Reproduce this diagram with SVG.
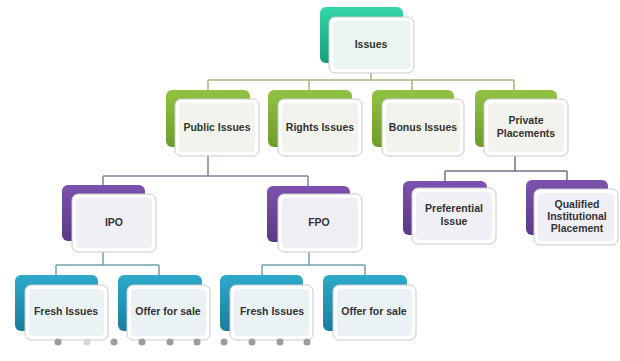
<svg xmlns="http://www.w3.org/2000/svg" width="620" height="361" viewBox="0 0 620 361">
<defs>
<linearGradient id="gTeal" x1="0" y1="0" x2="0" y2="1"><stop offset="0" stop-color="#34d6a8"/><stop offset="1" stop-color="#13a078"/></linearGradient>
<linearGradient id="gGreen" x1="0" y1="0" x2="0" y2="1"><stop offset="0" stop-color="#92c244"/><stop offset="1" stop-color="#6c9c2c"/></linearGradient>
<linearGradient id="gPurple" x1="0" y1="0" x2="0" y2="1"><stop offset="0" stop-color="#7d52ad"/><stop offset="1" stop-color="#5b3889"/></linearGradient>
<linearGradient id="gBlue" x1="0" y1="0" x2="0" y2="1"><stop offset="0" stop-color="#2eaacb"/><stop offset="1" stop-color="#1a7c9c"/></linearGradient>
</defs>
<style>
.front{fill:#ffffff;stroke:#c9c9c9;stroke-width:1}
.inT{fill:#eaf4f1}
.inG{fill:#f1f3ec}
.inP{fill:#f1eff6}
.inB{fill:#ebf2f6}
.lbl{font-family:"Liberation Sans",Arial,sans-serif;font-weight:bold;font-size:10.5px;fill:#333333;text-anchor:middle}
.c1{fill:none;stroke:#b4b07a;stroke-width:1.5}
.c2{fill:none;stroke:#8c7d9c;stroke-width:1.5}
.c3{fill:none;stroke:#6f7488;stroke-width:1.5}
.c4{fill:none;stroke:#72a2aa;stroke-width:1.5}
.dot{fill:#9c9c9c}
</style>
<rect width="620" height="361" fill="#ffffff"/>
<g id="connectors">
<path class="c1" d="M371 73V80M208 80H514M208 80V90M309 80V90M412 80V90M514 80V90"/>
<path class="c2" d="M208 156V176M103 176H308M103 176V185M308 176V187"/>
<path class="c3" d="M515 156V171M445 171H567M445 171V181M567 171V180"/>
<path class="c4" d="M103 252V265M56 265H159M56 265V275M159 265V275"/>
<path class="c4" d="M309 252V265M262 265H365M262 265V275M365 265V275"/>
</g>
<g id="issues">
<rect x="320" y="7" width="83" height="56" rx="6" fill="url(#gTeal)"/>
<rect class="front" x="329" y="17" width="85" height="56" rx="6"/>
<rect class="inT" x="333" y="21" width="77" height="48" rx="4"/>
<text class="lbl" x="371" y="48">Issues</text>
</g>
<g id="public-issues">
<rect x="166" y="90" width="84" height="57" rx="6" fill="url(#gGreen)"/>
<rect class="front" x="175" y="99" width="84" height="57" rx="6"/>
<rect class="inG" x="179" y="103" width="76" height="49" rx="4"/>
<text class="lbl" x="217" y="131">Public Issues</text>
</g>
<g id="rights-issues">
<rect x="268" y="90" width="84" height="57" rx="6" fill="url(#gGreen)"/>
<rect class="front" x="278" y="99" width="84" height="57" rx="6"/>
<rect class="inG" x="282" y="103" width="76" height="49" rx="4"/>
<text class="lbl" x="320" y="131">Rights Issues</text>
</g>
<g id="bonus-issues">
<rect x="372" y="90" width="82" height="57" rx="6" fill="url(#gGreen)"/>
<rect class="front" x="382" y="99" width="82" height="57" rx="6"/>
<rect class="inG" x="386" y="103" width="74" height="49" rx="4"/>
<text class="lbl" x="423" y="131">Bonus Issues</text>
</g>
<g id="private-placements">
<rect x="475" y="90" width="82" height="57" rx="6" fill="url(#gGreen)"/>
<rect class="front" x="484" y="99" width="84" height="57" rx="6"/>
<rect class="inG" x="488" y="103" width="76" height="49" rx="4"/>
<text class="lbl" x="526" y="124">Private</text>
<text class="lbl" x="526" y="137">Placements</text>
</g>
<g id="ipo">
<rect x="62" y="185" width="83" height="56" rx="6" fill="url(#gPurple)"/>
<rect class="front" x="72" y="194" width="84" height="58" rx="6"/>
<rect class="inP" x="76" y="198" width="76" height="50" rx="4"/>
<text class="lbl" x="114" y="226">IPO</text>
</g>
<g id="fpo">
<rect x="267" y="186" width="83" height="56" rx="6" fill="url(#gPurple)"/>
<rect class="front" x="278" y="194" width="84" height="58" rx="6"/>
<rect class="inP" x="282" y="198" width="76" height="50" rx="4"/>
<text class="lbl" x="319" y="226">FPO</text>
</g>
<g id="preferential-issue">
<rect x="403" y="181" width="84" height="54" rx="6" fill="url(#gPurple)"/>
<rect class="front" x="412" y="188" width="84" height="56" rx="6"/>
<rect class="inP" x="416" y="192" width="76" height="48" rx="4"/>
<text class="lbl" x="454" y="212">Preferential</text>
<text class="lbl" x="454" y="225">Issue</text>
</g>
<g id="qualified-institutional-placement">
<rect x="526" y="180" width="82" height="55" rx="6" fill="url(#gPurple)"/>
<rect class="front" x="534" y="189" width="84" height="56" rx="6"/>
<rect class="inP" x="538" y="193" width="76" height="48" rx="4"/>
<text class="lbl" x="577" y="208">Qualified</text>
<text class="lbl" x="577" y="220">Institutional</text>
<text class="lbl" x="577" y="232">Placement</text>
</g>
<g id="fresh-issues-1">
<rect x="15" y="275" width="83" height="56" rx="6" fill="url(#gBlue)"/>
<rect class="front" x="25" y="285" width="83" height="55" rx="6"/>
<rect class="inB" x="29" y="289" width="75" height="47" rx="4"/>
<text class="lbl" x="66" y="315">Fresh Issues</text>
</g>
<g id="offer-for-sale-1">
<rect x="118" y="275" width="84" height="56" rx="6" fill="url(#gBlue)"/>
<rect class="front" x="127" y="285" width="83" height="55" rx="6"/>
<rect class="inB" x="131" y="289" width="75" height="47" rx="4"/>
<text class="lbl" x="168" y="315">Offer for sale</text>
</g>
<g id="fresh-issues-2">
<rect x="220" y="275" width="83" height="56" rx="6" fill="url(#gBlue)"/>
<rect class="front" x="230" y="285" width="83" height="55" rx="6"/>
<rect class="inB" x="234" y="289" width="75" height="47" rx="4"/>
<text class="lbl" x="272" y="315">Fresh Issues</text>
</g>
<g id="offer-for-sale-2">
<rect x="323" y="275" width="84" height="56" rx="6" fill="url(#gBlue)"/>
<rect class="front" x="333" y="285" width="83" height="55" rx="6"/>
<rect class="inB" x="337" y="289" width="75" height="47" rx="4"/>
<text class="lbl" x="374" y="315">Offer for sale</text>
</g>
<g id="dots">
<circle class="dot" cx="58" cy="342" r="3.5"/>
<circle cx="87" cy="342" r="3.5" fill="#d6d6d6"/>
<circle class="dot" cx="114" cy="342" r="3.5"/>
<circle class="dot" cx="142" cy="342" r="3.5"/>
<circle class="dot" cx="170" cy="342" r="3.5"/>
<circle class="dot" cx="197" cy="342" r="3.5"/>
<circle class="dot" cx="224" cy="342" r="3.5"/>
<circle class="dot" cx="252" cy="342" r="3.5"/>
<circle class="dot" cx="280" cy="342" r="3.5"/>
<circle class="dot" cx="307" cy="342" r="3.5"/>
</g>
</svg>
